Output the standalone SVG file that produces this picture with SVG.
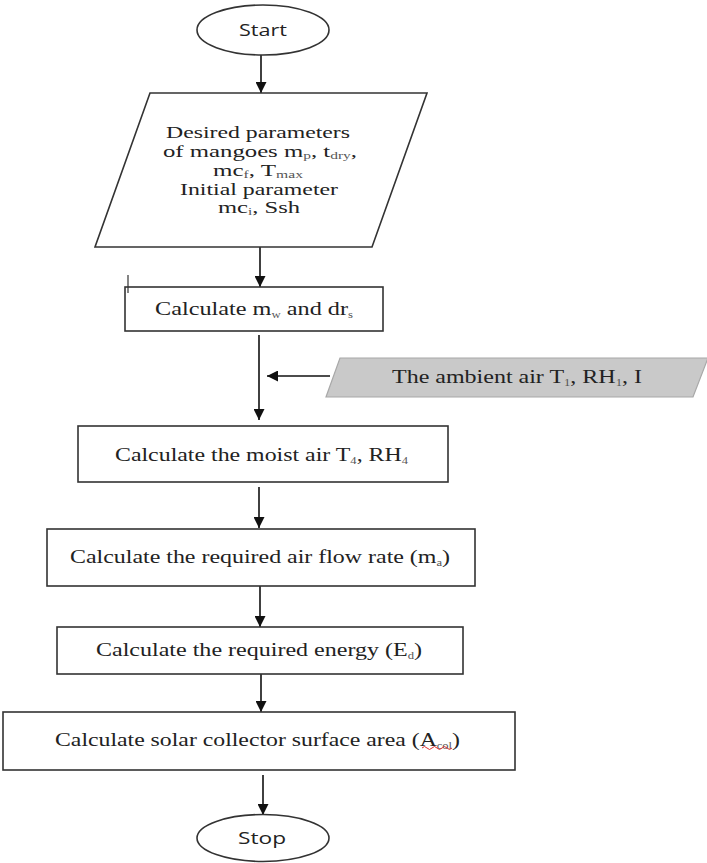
<svg xmlns="http://www.w3.org/2000/svg" width="707" height="863" viewBox="0 0 707 863">
<style>
.box{fill:#fff;stroke:#333;stroke-width:1.6}
.term{fill:#fff;stroke:#333;stroke-width:1.6}
.amb{fill:#c9c9c9;stroke:#a8a8a8;stroke-width:1.2}
.t{font-family:"Liberation Serif","Times New Roman",serif;font-size:19px;fill:#222}
.p{font-size:16px}
.s{font-size:10px;fill:#555}
.st{font-family:"Open Sans","Liberation Sans",sans-serif;font-size:16px;fill:#222;text-anchor:middle}
.c{stroke:#111;stroke-width:1.6;fill:none;marker-end:url(#ah)}
</style>
<defs>
<marker id="ah" markerUnits="userSpaceOnUse" markerWidth="12" markerHeight="11" refX="11" refY="5.5" orient="auto">
<path d="M0,0 L11,5.5 L0,11 z" fill="#111"/>
</marker>
</defs>
<rect width="707" height="863" fill="#fff"/>
<g id="connectors">
<line class="c" x1="261" y1="55" x2="261" y2="93"/>
<line class="c" x1="260" y1="247" x2="260" y2="287"/>
<line class="c" x1="259" y1="335" x2="259" y2="420"/>
<line class="c" x1="330" y1="376" x2="267" y2="376"/>
<line class="c" x1="259" y1="487" x2="259" y2="528"/>
<line class="c" x1="260" y1="586" x2="260" y2="627"/>
<line class="c" x1="261" y1="674" x2="261" y2="712"/>
<line class="c" x1="263" y1="775" x2="263" y2="815"/>
</g>
<g id="start">
<ellipse class="term" cx="263" cy="30" rx="66" ry="25"/>
<text class="st" x="263" y="36" textLength="48" lengthAdjust="spacingAndGlyphs">Start</text>
</g>
<g id="input">
<polygon class="box" points="150,93 427,93 372,247 95,247"/>
<text class="t p" x="166" y="138" textLength="184" lengthAdjust="spacingAndGlyphs">Desired parameters</text>
<text class="t p" x="163" y="157" textLength="194" lengthAdjust="spacingAndGlyphs">of mangoes m<tspan class="s" dy="2">p</tspan><tspan dy="-2">, t</tspan><tspan class="s" dy="2">dry</tspan><tspan dy="-2">,</tspan></text>
<text class="t p" x="213" y="176" textLength="90" lengthAdjust="spacingAndGlyphs">mc<tspan class="s" dy="2">f</tspan><tspan dy="-2">, T</tspan><tspan class="s" dy="2">max</tspan></text>
<text class="t p" x="180" y="195" textLength="158" lengthAdjust="spacingAndGlyphs">Initial parameter</text>
<text class="t p" x="218" y="213" textLength="82" lengthAdjust="spacingAndGlyphs">mc<tspan class="s" dy="2">i</tspan><tspan dy="-2">, Ssh</tspan></text>
</g>
<g id="calc-mw">
<rect class="box" x="125" y="287" width="258" height="44"/>
<line x1="128" y1="275" x2="128" y2="293" stroke="#333" stroke-width="1.2"/>
<text class="t" x="155" y="315" textLength="198" lengthAdjust="spacingAndGlyphs">Calculate m<tspan class="s" dy="3">w</tspan><tspan dy="-3"> and dr</tspan><tspan class="s" dy="3">s</tspan></text>
</g>
<g id="ambient">
<polygon class="amb" points="340,358 708,358 693,397 326,397"/>
<text class="t" x="392" y="383" textLength="250" lengthAdjust="spacingAndGlyphs">The ambient air T<tspan class="s" dy="3">1</tspan><tspan dy="-3">, RH</tspan><tspan class="s" dy="3">1</tspan><tspan dy="-3">, I</tspan></text>
</g>
<g id="calc-moist">
<rect class="box" x="78" y="426" width="370" height="56"/>
<text class="t" x="115" y="461" textLength="293" lengthAdjust="spacingAndGlyphs">Calculate the moist air T<tspan class="s" dy="3">4</tspan><tspan dy="-3">, RH</tspan><tspan class="s" dy="3">4</tspan></text>
</g>
<g id="calc-airflow">
<rect class="box" x="47" y="529" width="428" height="57"/>
<text class="t" x="70" y="563" textLength="380" lengthAdjust="spacingAndGlyphs">Calculate the required air flow rate (m<tspan class="s" dy="3">a</tspan><tspan dy="-3">)</tspan></text>
</g>
<g id="calc-energy">
<rect class="box" x="57" y="627" width="406" height="47"/>
<text class="t" x="96" y="656" textLength="326" lengthAdjust="spacingAndGlyphs">Calculate the required energy (E<tspan class="s" dy="3">d</tspan><tspan dy="-3">)</tspan></text>
</g>
<g id="calc-solar">
<rect class="box" x="3" y="712" width="512" height="58"/>
<text class="t" x="55" y="746" textLength="405" lengthAdjust="spacingAndGlyphs">Calculate solar collector surface area (A<tspan class="s" dy="3">col</tspan><tspan dy="-3">)</tspan></text>
<path d="M422,748 q2.5,-3 5,0 t5,0 t5,0 t5,0 t5,0 t5,0" fill="none" stroke="#e03030" stroke-width="1"/>
</g>
<g id="stop">
<ellipse class="term" cx="263" cy="838" rx="66" ry="23.5"/>
<text class="st" x="262" y="844" textLength="48" lengthAdjust="spacingAndGlyphs">Stop</text>
</g>
</svg>
